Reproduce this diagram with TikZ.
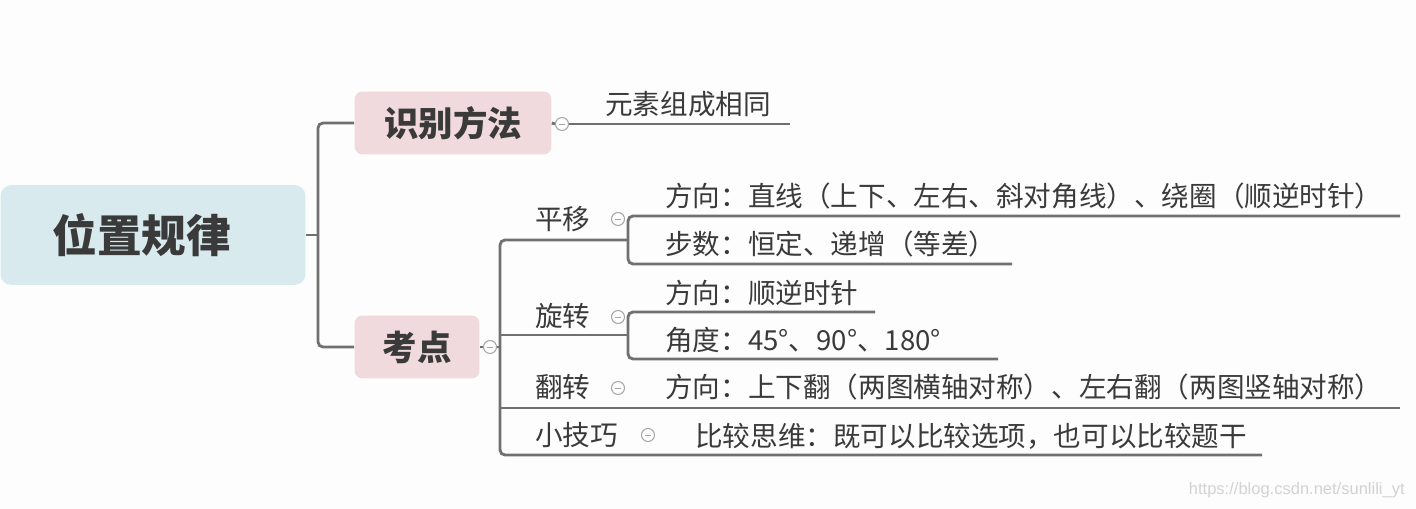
\documentclass[tikz,border=0pt]{standalone}
\usepackage{fontspec}
\setmainfont{Noto Sans CJK SC}
\newfontfamily\markfont{Liberation Sans}

\definecolor{mapBackground}{RGB}{253,253,253}
\definecolor{mapRootFill}{RGB}{216,234,238}
\definecolor{mapTopicFill}{RGB}{241,218,222}
\definecolor{mapLine}{RGB}{112,112,112}
\definecolor{mapText}{RGB}{58,58,58}
\definecolor{mapDot}{RGB}{165,165,165}
\definecolor{mapMark}{RGB}{210,210,210}

\begin{document}
\begin{tikzpicture}[x=.02cm,y=-.02cm,
      root/.style={fill=mapRootFill, rounded corners=.22cm, minimum width=6.1cm,
        minimum height=2cm, font=\fontsize{25.4}{28}\selectfont\bfseries, text=mapText},
      topic/.style={fill=mapTopicFill, rounded corners=.16cm, minimum height=1.26cm,
        font=\fontsize{19.6}{22}\selectfont\bfseries, text=mapText},
      point/.style={font=\fontsize{15.7}{18}\selectfont, text=mapText,
        anchor=west, inner sep=0pt},
      leaf/.style={font=\fontsize{15.7}{18}\selectfont, text=mapText,
        anchor=west, inner sep=0pt},
      fold/.style={circle, draw=mapDot, fill=white, line width=.6pt,
        minimum size=.26cm, inner sep=0pt,
        path picture={\draw[mapDot, line width=.4pt]
          ([xshift=-1.6pt]path picture bounding box.center) --
          ([xshift=1.6pt]path picture bounding box.center);}},
      branch/.style={draw=mapLine, line width=1.6pt, rounded corners=.1cm},
      watermark/.style={font=\markfont\fontsize{9.4}{11}\selectfont,
        text=mapMark, anchor=east, inner sep=0pt}]
      \useasboundingbox (0,0) rectangle (1416,509);
      \fill[mapBackground] (0,0) rectangle (1416,509);

      % main topic and first level
      \node[root] (root) at (153,235) {位置规律\hspace*{.45cm}};
      \node[topic, minimum width=3.94cm] (sb) at (453,123) {识别方法};
      \node[topic, minimum width=2.5cm] (kd) at (417,347) {考点};
      \coordinate (rootFork) at (318,235);
      \draw[branch] (root.east) -- (rootFork);
      \draw[branch] (sb.west) -| (rootFork) |- (kd.west);

      % 识别方法
      \node[fold] (sbDot) at (562,124) {};
      \draw[branch] (sb.east) -- (sbDot.west);
      \node[leaf] (ys) at (605,104) {元素组成相同};
      \coordinate (ysEnd) at (790,124);
      \draw[branch] (sbDot.east) -- (ysEnd);

      % 考点
      \node[fold] (kdDot) at (490,347) {};
      \draw[branch] (kd.east) -- (kdDot.west);
      \coordinate (kdTop) at (500,240);
      \coordinate (kdBot) at (500,455);
      \coordinate (pyFork) at (628,240);
      \coordinate (xzFork) at (628,335);
      \coordinate (fzEnd) at (1400,408);
      \coordinate (jqEnd) at (1262,455);
      \draw[branch] (kdDot.east) -- (kdDot.east -| kdTop);
      \draw[branch] (pyFork) -- (kdTop) -- (kdBot) -- (jqEnd);
      \draw[branch] (kdTop |- xzFork) -- (xzFork);
      \draw[branch] (kdTop |- fzEnd) -- (fzEnd);

      \node[point] (py) at (535,219) {平移};
      \node[fold] (pyDot) at (618,219) {};
      \node[point] (xz) at (535,316) {旋转};
      \node[fold] (xzDot) at (618,317) {};
      \node[point] (fz) at (535,387) {翻转};
      \node[fold] (fzDot) at (618,388) {};
      \node[point] (jq) at (535,435) {小技巧};
      \node[fold] (jqDot) at (648,435) {};

      % 平移
      \node[leaf] (py1) at (665,196) {方向：直线（上下、左右、斜对角线）、绕圈（顺逆时针）};
      \node[leaf] (py2) at (665,244) {步数：恒定、递增（等差）};
      \coordinate (py1End) at (1400,216);
      \coordinate (py2End) at (1012,264);
      \draw[branch] (py1End) -- (py1End -| pyFork) -- (py2End -| pyFork) -- (py2End);

      % 旋转
      \node[leaf] (xz1) at (665,293) {方向：顺逆时针};
      \node[leaf] (xz2) at (665,340) {角度：45°、90°、180°};
      \coordinate (xz1End) at (875,312);
      \coordinate (xz2End) at (998,359);
      \draw[branch] (xz1End) -- (xz1End -| xzFork) -- (xz2End -| xzFork) -- (xz2End);

      % 翻转, 小技巧
      \node[leaf] (fz1) at (665,387) {方向：上下翻（两图横轴对称）、左右翻（两图竖轴对称）};
      \node[leaf] (jq1) at (695,436) {比较思维：既可以比较选项，也可以比较题干};

      \node[watermark] (wm) at (1405,490) {https://blog.csdn.net/sunlili\_yt};
    \end{tikzpicture}
\end{document}
